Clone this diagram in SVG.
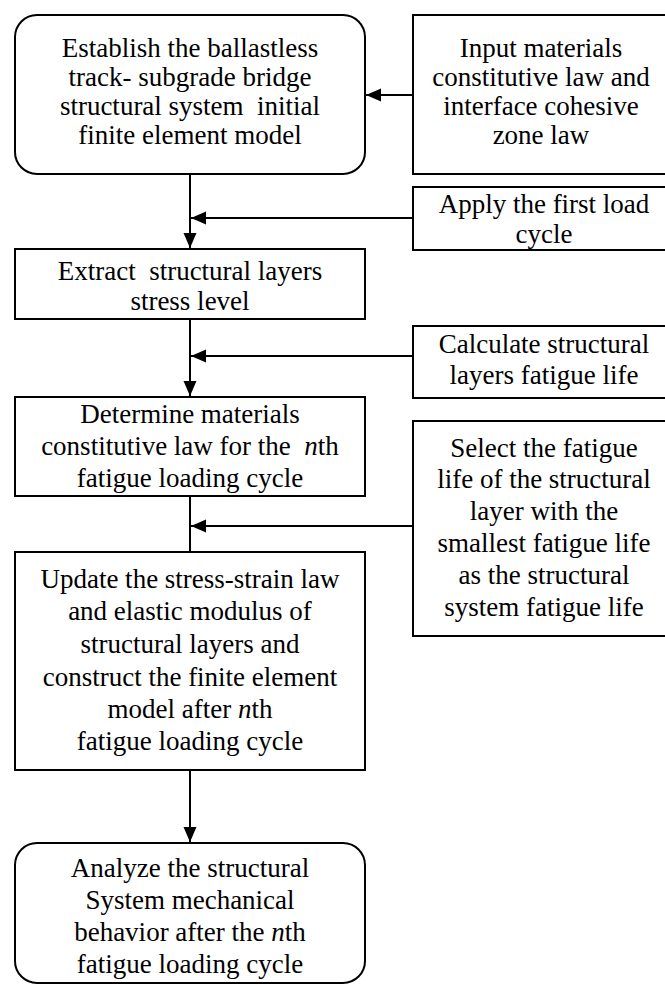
<svg xmlns="http://www.w3.org/2000/svg" width="665" height="985" viewBox="0 0 665 985">
<style>
.box{fill:#fff;stroke:#000;stroke-width:2}
.t{font-family:"Liberation Serif","Times New Roman",serif;font-size:27px;fill:#000;text-anchor:middle;white-space:pre}
.c{stroke:#000;stroke-width:2;fill:none}
.i{font-style:italic}
</style>
<defs>
<marker id="ah" markerUnits="userSpaceOnUse" markerWidth="16" markerHeight="14" refX="15" refY="6.5" orient="auto">
<path d="M0,0 L15,6.5 L0,13 z" fill="#000"/>
</marker>
</defs>
<rect width="665" height="985" fill="#fff"/>
<g id="connectors">
<line class="c" x1="413" y1="95" x2="366" y2="95" marker-end="url(#ah)"/>
<line class="c" x1="190" y1="174" x2="190" y2="248" marker-end="url(#ah)"/>
<line class="c" x1="413" y1="218" x2="191" y2="218" marker-end="url(#ah)"/>
<line class="c" x1="190" y1="319" x2="190" y2="396" marker-end="url(#ah)"/>
<line class="c" x1="413" y1="356" x2="191" y2="356" marker-end="url(#ah)"/>
<line class="c" x1="190" y1="496" x2="190" y2="552"/>
<line class="c" x1="413" y1="526" x2="191" y2="526" marker-end="url(#ah)"/>
<line class="c" x1="190" y1="770" x2="190" y2="842" marker-end="url(#ah)"/>
</g>
<g id="n1">
<rect class="box" x="15" y="15" width="350" height="159" rx="22"/>
<text class="t" x="190" y="57">Establish the ballastless</text>
<text class="t" x="190" y="86">track- subgrade bridge</text>
<text class="t" x="190" y="115">structural system  initial</text>
<text class="t" x="190" y="144">finite element model</text>
</g>
<g id="r1">
<rect class="box" x="413" y="15" width="258" height="159"/>
<text class="t" x="541" y="57">Input materials</text>
<text class="t" x="541" y="86">constitutive law and</text>
<text class="t" x="541" y="115">interface cohesive</text>
<text class="t" x="541" y="144">zone law</text>
</g>
<g id="r2">
<rect class="box" x="413" y="187" width="258" height="63"/>
<text class="t" x="544" y="213">Apply the first load</text>
<text class="t" x="544" y="243">cycle</text>
</g>
<g id="n2">
<rect class="box" x="15" y="249" width="350" height="70"/>
<text class="t" x="190" y="280">Extract  structural layers</text>
<text class="t" x="190" y="310">stress level</text>
</g>
<g id="r3">
<rect class="box" x="413" y="326" width="258" height="72"/>
<text class="t" x="544" y="353">Calculate structural</text>
<text class="t" x="544" y="384">layers fatigue life</text>
</g>
<g id="n3">
<rect class="box" x="15" y="397" width="350" height="99"/>
<text class="t" x="190" y="423">Determine materials</text>
<text class="t" x="190" y="455">constitutive law for the  <tspan class="i">n</tspan>th</text>
<text class="t" x="190" y="487">fatigue loading cycle</text>
</g>
<g id="r4">
<rect class="box" x="413" y="421" width="258" height="215"/>
<text class="t" x="544" y="457">Select the fatigue</text>
<text class="t" x="544" y="488">life of the structural</text>
<text class="t" x="544" y="520">layer with the</text>
<text class="t" x="544" y="552">smallest fatigue life</text>
<text class="t" x="544" y="584">as the structural</text>
<text class="t" x="544" y="616">system fatigue life</text>
</g>
<g id="n4">
<rect class="box" x="15" y="552" width="350" height="218"/>
<text class="t" x="190" y="588">Update the stress-strain law</text>
<text class="t" x="190" y="620">and elastic modulus of</text>
<text class="t" x="190" y="653">structural layers and</text>
<text class="t" x="190" y="686">construct the finite element</text>
<text class="t" x="190" y="718">model after <tspan class="i">n</tspan>th</text>
<text class="t" x="190" y="750">fatigue loading cycle</text>
</g>
<g id="n5">
<rect class="box" x="15" y="843" width="350" height="140" rx="22"/>
<text class="t" x="190" y="877">Analyze the structural</text>
<text class="t" x="190" y="909">System mechanical</text>
<text class="t" x="190" y="941">behavior after the <tspan class="i">n</tspan>th</text>
<text class="t" x="190" y="973">fatigue loading cycle</text>
</g>
</svg>
